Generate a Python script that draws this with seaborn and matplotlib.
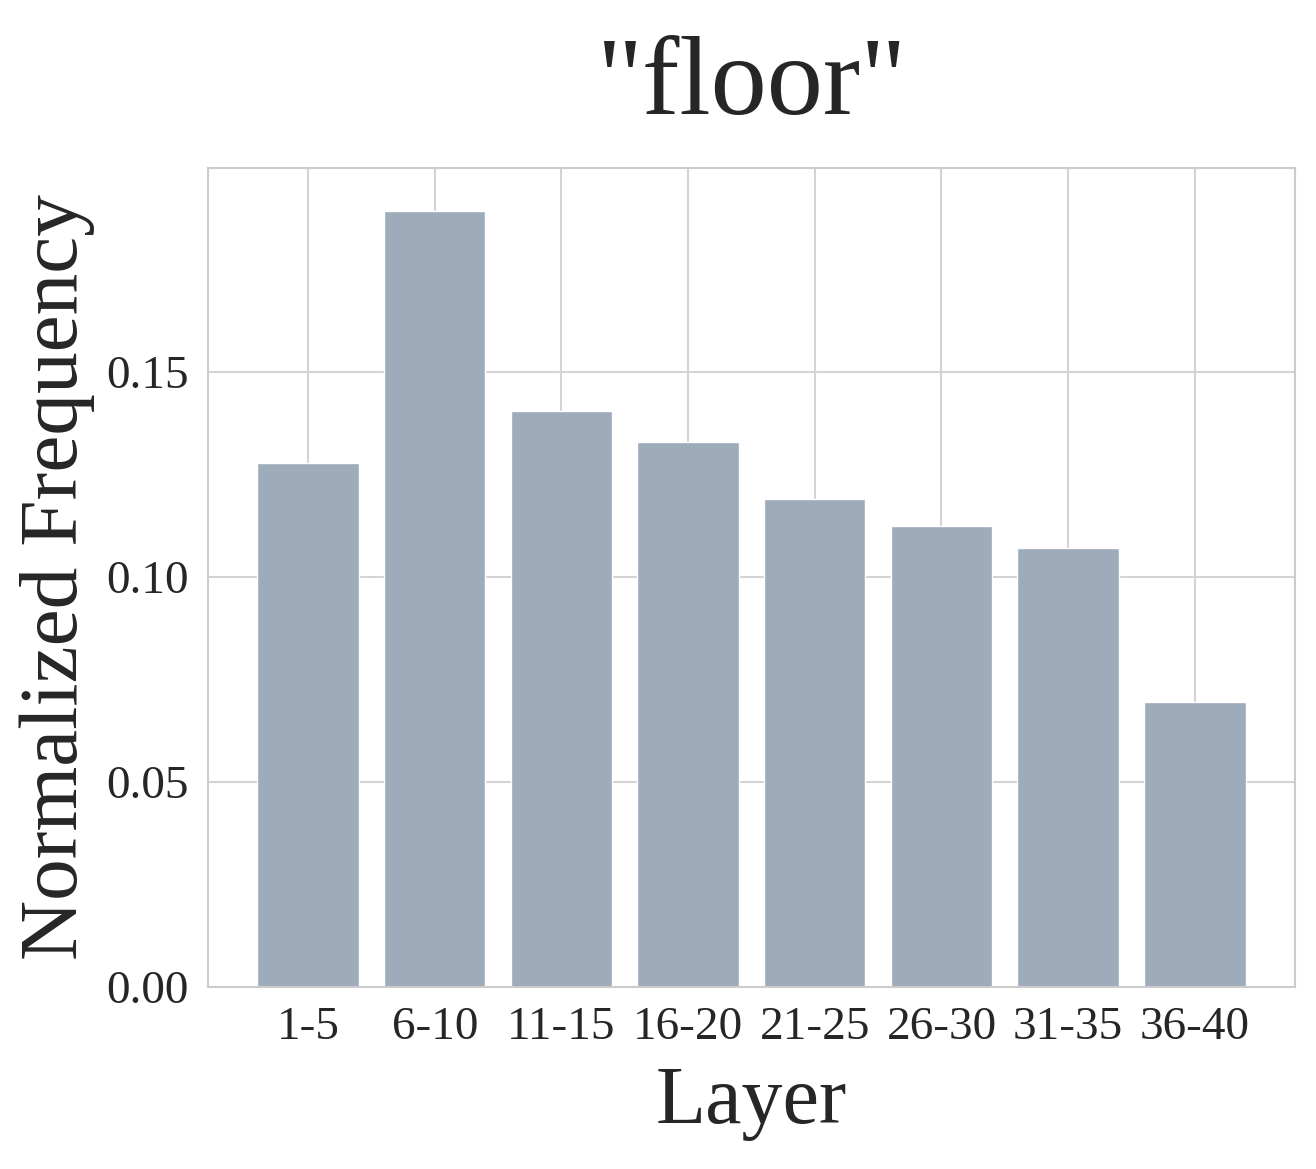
import pandas as pd
import matplotlib.pyplot as plt
import seaborn as sns

layers = ['1-5', '6-10', '11-15', '16-20', '21-25', '26-30', '31-35', '36-40']
freq = [0.1278, 0.1893, 0.1405, 0.1329, 0.1190, 0.1124, 0.1071, 0.0695]

sns.set_theme(style="whitegrid")
plt.rcParams['font.family'] = ['Liberation Serif', 'DejaVu Serif']

df = pd.DataFrame({'Layer': layers, 'Freq': freq})

fig = plt.figure(figsize=(13.16, 11.69), dpi=100)
ax = fig.add_axes([0.158, 0.1557, 0.826, 0.7006])
sns.barplot(data=df, x='Layer', y='Freq', color='#9DABBA', saturation=1,
            width=0.8, edgecolor='white', linewidth=1, ax=ax)
ax.set_xlim(-0.79, 7.79)
ax.set_ylim(0, 0.1998)
ax.set_yticks([0, 0.05, 0.10, 0.15])
ax.set_yticklabels(['0.00', '0.05', '0.10', '0.15'])
ax.tick_params(axis='both', labelsize=34, pad=8)
ax.set_xlabel('Layer', fontsize=59, labelpad=12)
ax.set_ylabel('Normalized Frequency', fontsize=60, labelpad=8)
ax.set_title('"floor"', fontsize=81, pad=39)
for s in ax.spines.values():
    s.set_color('#cccccc')
    s.set_linewidth(1.5)
ax.grid(True, color='#d4d4d4', linewidth=1.5)
ax.set_axisbelow(True)

fig.savefig('out.png', dpi=100)
